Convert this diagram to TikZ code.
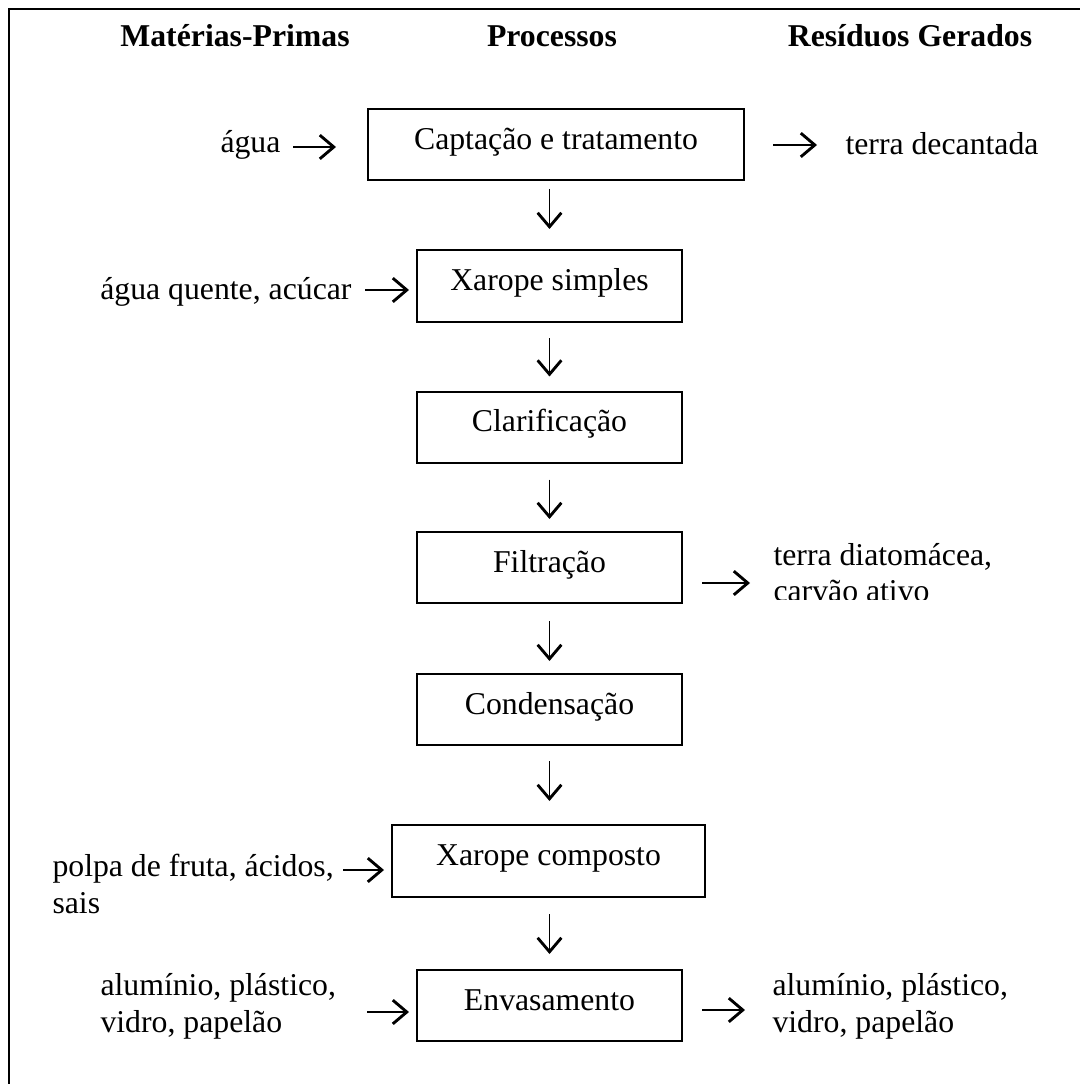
\documentclass[tikz,border=0pt]{standalone}
\usepackage{fontspec}
\setmainfont{Liberation Serif}
\usetikzlibrary{arrows.meta}

\begin{document}
\begin{tikzpicture}[x=0.4pt, y=-0.4pt,
  every node/.style={font=\fontsize{12.7pt}{14.6pt}\selectfont, inner sep=0pt},
  stepbox/.style={draw, line width=0.8pt, rectangle, text height=0.62em, text depth=0.25em},
  head/.style={font=\fontsize{12.7pt}{14.6pt}\selectfont\bfseries, anchor=base},
  lbl/.style={align=left, anchor=base west},
  lblr/.style={align=left, anchor=base east},
  arr/.style={line width=0.75pt, -{Straight Barb[length=5.6pt, width=9.5pt, line width=1.15pt]}}
]
\useasboundingbox (0,0) rectangle (1080,1084);

% frame: top and left rules only
\draw[line width=0.8pt] (9,1084) -- (9,9) -- (1080,9);

% column headings
\node[head] (hmp) at (235,47) {Matérias-Primas};
\node[head] (hpr) at (552,47) {Processos};
\node[head] (hrg) at (910,47) {Resíduos Gerados};

% process steps
\node[stepbox, minimum width=150.4pt, minimum height=28.4pt] (b1) at (556,144.5) {Captação e tratamento};
\node[stepbox, minimum width=106pt, minimum height=28.8pt] (b2) at (549.5,286) {Xarope simples};
\node[stepbox, minimum width=106pt, minimum height=28.4pt] (b3) at (549.5,427) {Clarificação};
\node[stepbox, minimum width=106pt, minimum height=28.4pt] (b4) at (549.5,567.5) {Filtração};
\node[stepbox, minimum width=106pt, minimum height=28.4pt] (b5) at (549.5,709.5) {Condensação};
\node[stepbox, minimum width=125.2pt, minimum height=28.8pt] (b6) at (548.5,861) {Xarope composto};
\node[stepbox, minimum width=106pt, minimum height=28.4pt] (b7) at (549.5,1005.5) {Envasamento};

% raw materials (multi-line labels are anchored on their last line)
\node[lbl] (m1) at (220,153) {água};
\node[lblr] (m2) at (352,300) {água quente, acúcar};
\node[lbl] (m6) at (52,913) {polpa de fruta, ácidos,\\sais};
\node[lbl] (m7) at (100,1032) {alumínio, plástico,\\vidro, papelão};

% generated waste
\node[lbl] (r1) at (845,155) {terra decantada};
\begin{scope}
  \clip (700,520) rectangle (1080,599);
  \node[lbl] (r4) at (773,601.6) {terra diatomácea,\\carvão ativo};
\end{scope}
\node[lbl] (r7) at (772,1032) {alumínio, plástico,\\vidro, papelão};

% arrow anchor points
\coordinate (i1) at (293,147);
\coordinate (i2) at (365,290);
\coordinate (i6) at (343,870);
\coordinate (i7) at (367,1012);
\coordinate (o1) at (773,145);
\coordinate (o4) at (702,583);
\coordinate (o7) at (702,1010);

% inputs
\draw[arr, shorten >=12.4pt] (i1) -- (i1 -| b1.west);
\draw[arr, shorten >=2.8pt] (i2) -- (i2 -| b2.west);
\draw[arr, shorten >=2.8pt] (i6) -- (i6 -| b6.west);
\draw[arr, shorten >=2.8pt] (i7) -- (i7 -| b7.west);

% outputs
\draw[arr, shorten >=11.2pt] (o1) -- (o1 -| r1.west);
\draw[arr, shorten >=9.2pt] (o4) -- (o4 -| r4.west);
\draw[arr, shorten >=10.8pt] (o7) -- (o7 -| r7.west);

% flow between steps
\draw[arr, shorten <=3.2pt, shorten >=8pt] (b1.south -| b2.north) -- (b2.north);
\draw[arr, shorten <=6pt, shorten >=5.6pt] (b2.south) -- (b3.north);
\draw[arr, shorten <=6.4pt, shorten >=4.8pt] (b3.south) -- (b4.north);
\draw[arr, shorten <=6.8pt, shorten >=4.8pt] (b4.south) -- (b5.north);
\draw[arr, shorten <=6pt, shorten >=9.2pt] (b5.south) -- (b6.north -| b5.south);
\draw[arr, shorten <=6.4pt, shorten >=6pt] (b6.south -| b7.north) -- (b7.north);
\end{tikzpicture}
\end{document}
